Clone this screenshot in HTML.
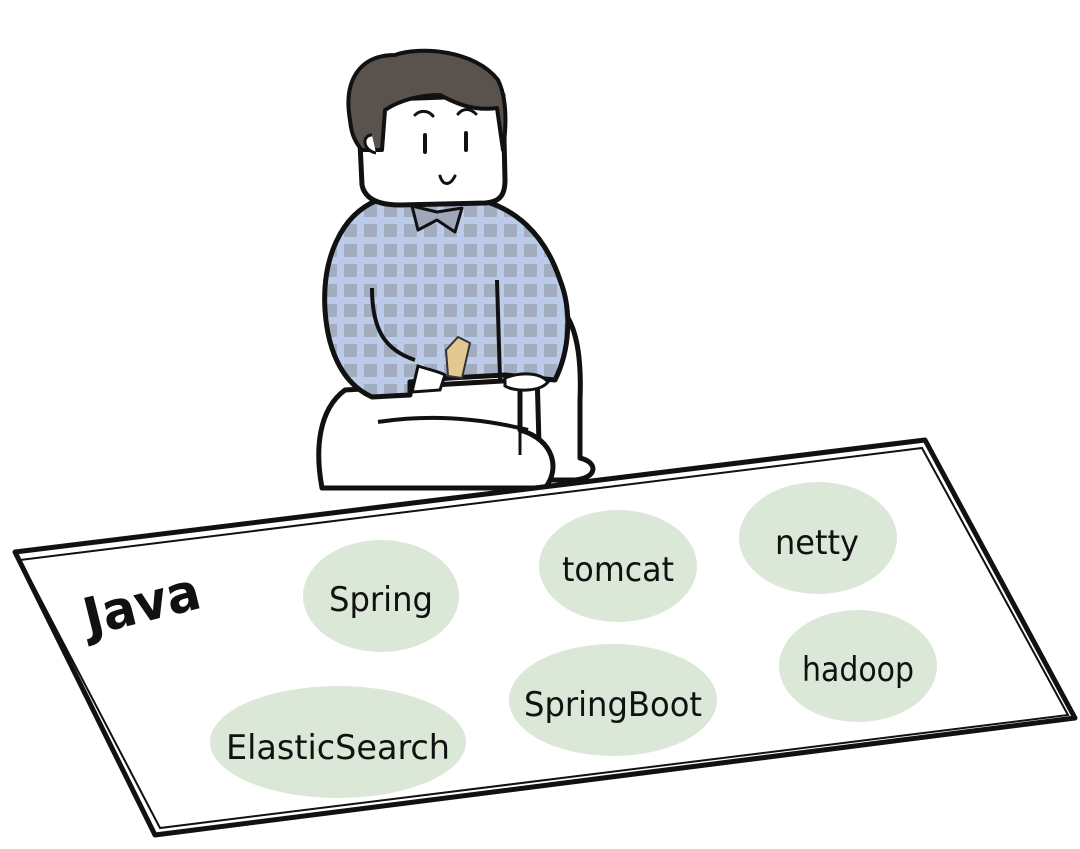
<!DOCTYPE html>
<html><head><meta charset="utf-8"><style>
html,body{margin:0;padding:0;background:#fff;}
svg{display:block}
text{font-family:"Comic Sans MS","DejaVu Sans Condensed","Liberation Sans",sans-serif;}
</style></head><body>
<svg width="1080" height="849" viewBox="0 0 1080 849" xmlns="http://www.w3.org/2000/svg">
<defs>
<pattern id="chk" width="20" height="20" patternUnits="userSpaceOnUse">
<rect width="20" height="20" fill="#bccbea"/>
<rect x="4" y="4" width="13" height="13" fill="#a3adc0"/>
</pattern>
</defs>
<!-- back leg -->
<path d="M548 300 C575 310 582 350 580 400 L580 458 C598 462 598 478 575 480 L540 480 L535 300 Z" fill="#fff" stroke="#111" stroke-width="5" stroke-linejoin="round"/>
<!-- front leg / lap -->
<path d="M345 390 C318 410 315 450 322 488 L545 488 C560 470 555 440 520 430 L520 380 Z" fill="#fff" stroke="#111" stroke-width="5" stroke-linejoin="round"/>
<path d="M378 422 C430 414 480 418 528 430" fill="none" stroke="#111" stroke-width="4"/>
<path d="M520 430 L520 455" fill="none" stroke="#111" stroke-width="3"/>
<!-- sweater -->
<path d="M378 200 C340 215 322 260 325 310 C328 355 345 385 372 397 L410 395 L410 382 L450 378 L505 375 L555 380 C570 350 572 310 560 280 C545 235 515 205 470 198 Z" fill="url(#chk)" stroke="#111" stroke-width="5" stroke-linejoin="round"/>
<path d="M372 288 C372 330 385 350 415 360" fill="none" stroke="#111" stroke-width="4"/>
<path d="M497 280 L500 380" fill="none" stroke="#111" stroke-width="4"/>
<path d="M418 366 C430 370 440 372 445 375 L440 390 L412 392 Z" fill="#fff" stroke="#111" stroke-width="3"/>
<path d="M505 378 C520 372 540 372 548 382 C540 392 515 392 505 386 Z" fill="#fff" stroke="#111" stroke-width="3"/>
<!-- block -->
<path d="M446 350 L458 337 L470 343 L462 378 L448 376 Z" fill="#e3c890" stroke="#333" stroke-width="2"/>
<!-- collar -->
<path d="M412 206 L418 230 L437 220 L455 232 L462 208 L437 212 Z" fill="#9ea8ba" stroke="#111" stroke-width="3" stroke-linejoin="round"/>
<!-- head -->
<path d="M358 100 L362 185 C365 200 380 205 400 205 L485 203 C500 202 505 195 505 180 L503 95 Z" fill="#fff" stroke="#111" stroke-width="5" stroke-linejoin="round"/>
<path d="M350 120 C343 80 360 55 395 55 C420 46 475 50 498 80 C508 100 506 130 503 150 L497 108 C470 112 450 100 440 95 C420 95 400 100 385 110 L382 150 L362 150 C353 140 351 130 350 120 Z" fill="#5a524c" stroke="#111" stroke-width="4" stroke-linejoin="round"/>
<path d="M372 135 C362 135 362 150 376 153" fill="#fff" stroke="#111" stroke-width="3"/>
<path d="M415 115 C420 110 428 110 433 116 M458 114 C463 108 470 108 476 114" fill="none" stroke="#111" stroke-width="3" stroke-linecap="round"/>
<path d="M425 135 L425 152 M466 133 L466 150" stroke="#111" stroke-width="4" stroke-linecap="round"/>
<path d="M440 176 C443 186 450 186 455 176" fill="none" stroke="#111" stroke-width="3" stroke-linecap="round"/>
<!-- board -->
<path d="M15 552 L925 440 L1075 718 L155 835 Z" fill="#fff" stroke="#111" stroke-width="5" stroke-linejoin="round"/>
<path d="M20 560 L922 448 L1068 715 L160 828 Z" fill="none" stroke="#111" stroke-width="2"/>
<!-- ellipses -->
<g fill="#dbe7d7">
<ellipse cx="381" cy="596" rx="78" ry="56"/>
<ellipse cx="618" cy="566" rx="79" ry="56"/>
<ellipse cx="818" cy="538" rx="79" ry="56"/>
<ellipse cx="858" cy="666" rx="79" ry="56"/>
<ellipse cx="613" cy="700" rx="104" ry="56"/>
<ellipse cx="338" cy="742" rx="128" ry="56"/>
</g>
<g font-size="34" fill="#111" text-anchor="middle">
<text x="381" y="611" textLength="104" lengthAdjust="spacingAndGlyphs">Spring</text>
<text x="618" y="581" textLength="112" lengthAdjust="spacingAndGlyphs">tomcat</text>
<text x="817" y="554" textLength="84" lengthAdjust="spacingAndGlyphs">netty</text>
<text x="858" y="681" textLength="112" lengthAdjust="spacingAndGlyphs">hadoop</text>
<text x="613" y="716" textLength="178" lengthAdjust="spacingAndGlyphs">SpringBoot</text>
<text x="338" y="759" textLength="224" lengthAdjust="spacingAndGlyphs">ElasticSearch</text>
</g>
<text x="142" y="622" font-size="52" font-weight="bold" fill="#111" text-anchor="middle" textLength="118" lengthAdjust="spacingAndGlyphs" transform="rotate(-14 142 605)">Java</text>
</svg>
</body></html>
